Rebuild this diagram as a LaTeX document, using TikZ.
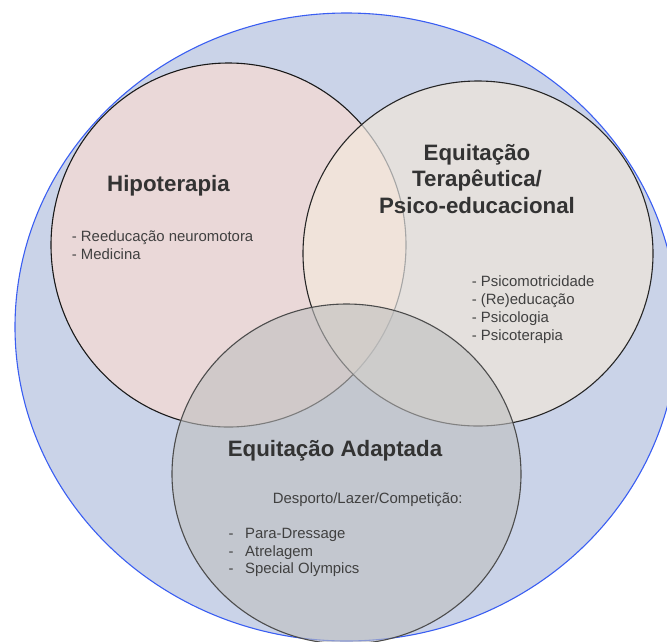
\documentclass[tikz,border=0pt]{standalone}
\usepackage{fontspec}
\setmainfont{Liberation Sans}
\usepackage{tikz}
\definecolor{bigfill}{HTML}{CAD3E8}
\definecolor{bigline}{HTML}{3A5EF2}
\definecolor{hipofill}{HTML}{EAD8D8}
\definecolor{terafill}{HTML}{E4E0DD}
\definecolor{peach}{HTML}{F0E3DA}
\definecolor{txt}{HTML}{333333}
\tikzset{
    EL0/.style ={fill=bigfill, draw=bigline, line width=1.1pt},
    EL1/.style ={fill=hipofill, draw=black!90, line width=1.1pt},
    EL2/.style ={fill=terafill, draw=black!85, line width=1.1pt},
    EL3/.style ={fill=black!25, fill opacity=0.6, draw=black!70, draw opacity=1, line width=1.1pt},
    TT/.style ={font=\fontsize{22.3}{26.3}\selectfont\bfseries, text=txt, align=center, inner sep=0pt, anchor=base},
    LS/.style ={font=\fontsize{14.9}{17.6}\selectfont, text=black!75, align=left, inner sep=0pt, anchor=base west}}

\begin{document}
\begin{tikzpicture}[x=1pt,y=-1pt]
        \useasboundingbox (0,0) rectangle (667,641);
        \clip (0,0) rectangle (667,641);
        % circles
        \path[EL0] (346.5,327) ellipse [x radius=331.5, y radius=314];
        \path[EL1] (228.5,245) ellipse [x radius=177.5, y radius=182];
        \fill[terafill] (478,253.5) ellipse [x radius=175, y radius=172.5];
        \begin{scope}
            \clip (228.5,245) ellipse [x radius=177.5, y radius=182];
            \fill[peach] (478,253.5) ellipse [x radius=175, y radius=172.5];
        \end{scope}
        \begin{scope}
            \clip (478,253.5) ellipse [x radius=175, y radius=172.5];
            \draw[black!35, line width=1.1pt] (228.5,245) ellipse [x radius=177.5, y radius=182];
        \end{scope}
        \draw[black!85, line width=1.1pt] (478,253.5) ellipse [x radius=175, y radius=172.5];
        \path[EL3] (346.5,474) ellipse [x radius=174.5, y radius=170];
        % texts (multi-line nodes sit on their last baseline)
        \node[TT] (1) at (168.5,191) {Hipoterapia};
        \node[LS] (2) at (71.7,259.3) {- Reeducação neuromotora\\- Medicina};
        \node[TT] (3) at (477,213) {Equitação\\Terapêutica/\\Psico-educacional};
        \node[LS, font=\fontsize{14.9}{18}\selectfont] (4) at (471.7,340.7) {- Psicomotricidade\\- (Re)educação\\- Psicologia\\- Psicoterapia};
        \node[TT] (5) at (335,456) {Equitação Adaptada};
        \node[LS] (6) at (272.7,503.3) {Desporto/Lazer/Competição:};
        \node[LS, font=\fontsize{14.9}{17.2}\selectfont] (7) at (228.3,573.3) {\makebox[16.7pt][l]{-}Para-Dressage\\\makebox[16.7pt][l]{-}Atrelagem\\\makebox[16.7pt][l]{-}Special Olympics};
    \end{tikzpicture}
\end{document}
